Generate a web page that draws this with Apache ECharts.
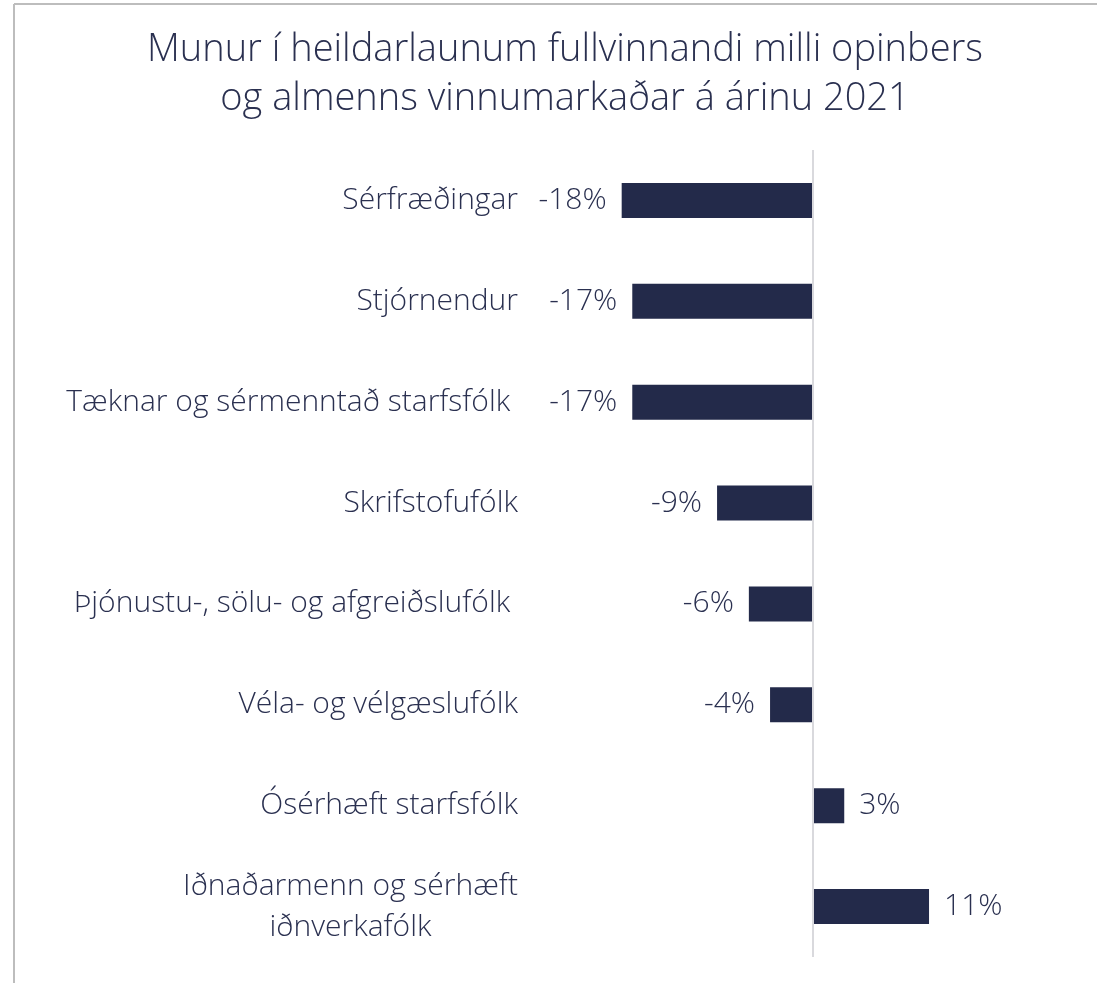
<!DOCTYPE html>
<html>
<head>
<meta charset="utf-8">
<title>Munur í heildarlaunum</title>
<script src="https://cdn.jsdelivr.net/npm/echarts@6/dist/echarts.min.js"></script>
<style>
  html, body { margin: 0; padding: 0; background: #ffffff; }
  #chart { width: 1097px; height: 983px; }
</style>
</head>
<body>
<div id="chart"></div>
<script>
// Occupational groups, top to bottom
const categories = [
  'Sérfræðingar',
  'Stjórnendur',
  'Tæknar og sérmenntað starfsfólk ',
  'Skrifstofufólk',
  'Þjónustu-, sölu- og afgreiðslufólk ',
  'Véla- og vélgæslufólk',
  'Ósérhæft starfsfólk',
  'Iðnaðarmenn og sérhæft\niðnverkafólk'
];
// Pay difference, public vs. private sector (%)
const diffValues = [-18, -17, -17, -9, -6, -4, 3, 11];

const NAVY = '#232a4a';
const TEXT = '#2a3050';
const FONT = '"Open Sans", "Noto Sans", sans-serif';
const WEIGHT = 300;
const LABEL_SIZE = 30;
const TITLE_SIZE = 38;

// width of the widest line of a two-line label, so both lines centre on one another
function lineWidth(text) {
  const ctx = document.createElement('canvas').getContext('2d');
  ctx.font = WEIGHT + ' ' + LABEL_SIZE + 'px ' + FONT;
  return Math.ceil(ctx.measureText(text).width);
}

const chart = echarts.init(document.getElementById('chart'), null, { renderer: 'canvas' });

function render() {
  const twoLine = categories[categories.length - 1].split('\n');
  const blockW = Math.max(lineWidth(twoLine[0]), lineWidth(twoLine[1]));

  chart.setOption({
    backgroundColor: '#ffffff',
    animation: false,
    title: {
      text: 'Munur í heildarlaunum fullvinnandi milli opinbers\nog almenns vinnumarkaðar á árinu 2021',
      left: 560,
      top: 21,
      textAlign: 'center',
      textStyle: {
        fontFamily: FONT,
        fontWeight: WEIGHT,
        fontSize: TITLE_SIZE,
        lineHeight: 49,
        color: TEXT
      }
    },
    graphic: [
      { type: 'line', shape: { x1: 14, y1: 4, x2: 14, y2: 983 }, style: { stroke: '#bdbdbd', lineWidth: 2 } },
      { type: 'line', shape: { x1: 14, y1: 4, x2: 1097, y2: 4 }, style: { stroke: '#bdbdbd', lineWidth: 2 } }
    ],
    grid: {
      left: 521,
      right: 9,
      top: 150,
      bottom: 26
    },
    xAxis: {
      type: 'value',
      min: -27.5,
      max: 26,
      show: false
    },
    yAxis: {
      type: 'category',
      inverse: true,
      data: categories,
      axisLine: { show: false },
      axisTick: { show: false },
      splitLine: { show: false },
      axisLabel: {
        margin: 3,
        fontFamily: FONT,
        fontWeight: WEIGHT,
        fontSize: LABEL_SIZE,
        color: TEXT,
        lineHeight: 41,
        formatter: function (val) {
          if (val.indexOf('\n') >= 0) {
            return val.split('\n').map(function (p) {
              return '{c|' + p + '}';
            }).join('\n');
          }
          return val;
        },
        rich: {
          c: {
            width: blockW,
            align: 'center',
            fontFamily: FONT,
            fontWeight: WEIGHT,
            fontSize: LABEL_SIZE,
            lineHeight: 41,
            color: TEXT
          }
        }
      }
    },
    series: [{
      type: 'bar',
      data: diffValues.map(function (v) {
        return {
          value: v,
          label: { position: v < 0 ? 'left' : 'right' }
        };
      }),
      barWidth: 35,
      itemStyle: { color: NAVY },
      label: {
        show: true,
        distance: 15,
        fontFamily: FONT,
        fontWeight: WEIGHT,
        fontSize: LABEL_SIZE,
        color: TEXT,
        formatter: function (p) { return p.value + '%'; }
      },
      markLine: {
        silent: true,
        symbol: 'none',
        label: { show: false },
        lineStyle: { color: '#d9d9dd', width: 2, type: 'solid' },
        data: [{ xAxis: 0 }]
      },
      z: 3
    }]
  });
}

if (document.fonts && document.fonts.load) {
  Promise.all([
    document.fonts.load(WEIGHT + ' ' + LABEL_SIZE + 'px "Open Sans"'),
    document.fonts.load(WEIGHT + ' ' + TITLE_SIZE + 'px "Open Sans"')
  ]).then(render, render);
} else {
  render();
}
</script>
</body>
</html>
